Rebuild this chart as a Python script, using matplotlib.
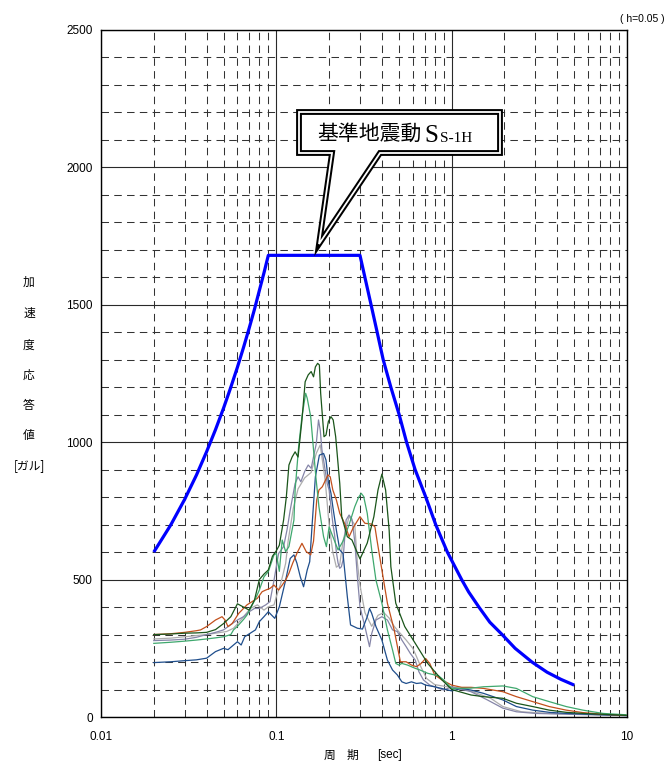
import matplotlib
matplotlib.use('Agg')
import matplotlib.pyplot as plt
from matplotlib.patches import Polygon
from matplotlib.ticker import FixedLocator, MultipleLocator, NullFormatter

plt.rcParams['font.family'] = ['Liberation Sans', 'Noto Sans CJK JP', 'DejaVu Sans']
plt.rcParams['lines.scale_dashes'] = False

# ---------------- data (period [s], acceleration [gal]) ----------------
design_T = [0.02, 0.025, 0.03, 0.035, 0.04, 0.045, 0.05, 0.055, 0.06, 0.065, 0.07,
            0.075, 0.08, 0.085, 0.09, 0.30, 0.32, 0.347, 0.37, 0.407, 0.45, 0.502,
            0.553, 0.619, 0.712, 0.811, 0.945, 1.14, 1.25, 1.43, 1.65, 1.94, 2.3,
            2.87, 3.5, 4.2, 5.0]
design_Sa = [600, 699, 792, 880, 965, 1046, 1124, 1200, 1273, 1345, 1415,
             1483, 1552, 1616, 1680, 1680, 1600, 1500, 1420, 1300, 1200, 1100,
             1000, 900, 800, 700, 600, 500, 455, 400, 345, 300, 250,
             200, 163, 137, 116]

dg_T = [0.02, 0.025, 0.03, 0.035, 0.04, 0.045, 0.05, 0.055, 0.06, 0.065, 0.07, 0.075,
        0.08, 0.085, 0.09, 0.095, 0.1, 0.104, 0.11, 0.114, 0.118, 0.123, 0.128, 0.133,
        0.14, 0.146, 0.152, 0.158, 0.163, 0.167, 0.172, 0.176, 0.179, 0.187, 0.192,
        0.198, 0.205, 0.211, 0.218, 0.23, 0.236, 0.254, 0.27, 0.285, 0.30, 0.33, 0.36,
        0.38, 0.40, 0.42, 0.44, 0.45, 0.48, 0.54, 0.62, 0.73, 0.88, 1.0, 1.29, 1.52,
        1.96, 2.34, 2.9, 3.6, 4.5, 5.6, 9.9]
dg_Sa = [300, 302, 305, 306, 308, 318, 340, 365, 412, 400, 389, 425,
         500, 520, 535, 585, 605, 625, 717, 800, 917, 946, 965, 946,
         1081, 1220, 1245, 1257, 1238, 1274, 1287, 1281, 1178, 1020, 1026,
         1075, 1093, 1081, 1020, 850, 729, 656, 644, 608, 575, 633, 729,
         826, 884, 826, 680, 547, 414, 329, 268, 195, 135, 100, 80, 74,
         68, 50, 38, 25, 17, 13, 6]

lg_T = [0.02, 0.025, 0.03, 0.035, 0.04, 0.045, 0.05, 0.055, 0.057, 0.06, 0.065, 0.068,
        0.072, 0.076, 0.08, 0.085, 0.09, 0.097, 0.1, 0.104, 0.108, 0.113, 0.118, 0.126,
        0.128, 0.134, 0.14, 0.147, 0.15, 0.157, 0.163, 0.168, 0.175, 0.186, 0.193, 0.2,
        0.205, 0.215, 0.225, 0.24, 0.26, 0.28, 0.295, 0.305, 0.315, 0.33, 0.35, 0.37,
        0.40, 0.43, 0.46, 0.48, 0.5, 0.52, 0.56, 0.62, 0.66, 0.73, 0.84, 0.9, 1.0,
        1.29, 1.52, 1.96, 2.34, 2.9, 3.6, 4.5, 5.6, 7.3, 9.9]
lg_Sa = [268, 272, 276, 280, 284, 288, 292, 300, 317, 330, 355, 371,
         401, 430, 462, 510, 529, 590, 595, 530, 644, 602, 620, 717,
         826, 983, 1093, 1178, 1160, 1093, 972, 874, 765, 656, 620, 692,
         674, 640, 608, 640, 700, 765, 800, 814, 802, 741, 608, 498,
         414, 317, 244, 195, 189, 195, 189, 177, 171, 159, 150, 135, 104,
         105, 110, 113, 104, 74, 56, 38, 25, 13, 8]

or_T = [0.02, 0.025, 0.03, 0.035, 0.037, 0.04, 0.045, 0.049, 0.051, 0.053, 0.056, 0.061,
        0.068, 0.078, 0.083, 0.087, 0.092, 0.097, 0.103, 0.108, 0.113, 0.118, 0.124,
        0.132, 0.14, 0.148, 0.157, 0.163, 0.17, 0.175, 0.183, 0.197, 0.203, 0.21, 0.22,
        0.23, 0.245, 0.26, 0.275, 0.30, 0.32, 0.35, 0.365, 0.375, 0.40, 0.43, 0.47,
        0.51, 0.55, 0.59, 0.63, 0.67, 0.71, 0.75, 0.8, 0.88, 1.0, 1.14, 1.29, 1.52,
        1.96, 2.34, 2.9, 3.6, 4.5, 5.6, 7.3, 9.9]
or_Sa = [300, 303, 308, 314, 317, 329, 353, 365, 353, 329, 340, 377,
         408, 432, 456, 462, 468, 480, 462, 480, 498, 523, 560,
         600, 632, 602, 590, 640, 790, 826, 838, 881, 874, 826, 790,
         741, 705, 656, 690, 729, 705, 702, 692, 644, 535, 414, 317,
         201, 201, 189, 183, 195, 213, 195, 153, 135, 116, 108, 108, 104,
         92, 74, 56, 38, 25, 16, 10, 6]

db_T = [0.02, 0.025, 0.03, 0.035, 0.04, 0.045, 0.05, 0.053, 0.057, 0.06, 0.063, 0.066,
        0.076, 0.08, 0.085, 0.09, 0.098, 0.104, 0.113, 0.12, 0.126, 0.131, 0.137, 0.143,
        0.15, 0.155, 0.16, 0.167, 0.176, 0.186, 0.192, 0.198, 0.205, 0.21, 0.22, 0.23,
        0.24, 0.254, 0.265, 0.29, 0.31, 0.33, 0.34, 0.35, 0.37, 0.40, 0.43, 0.46, 0.49,
        0.52, 0.55, 0.59, 0.63, 0.67, 0.71, 0.8, 1.0, 1.14, 1.29, 1.52, 1.96, 2.34,
        2.9, 3.6, 4.5, 9.9]
db_Sa = [198, 201, 205, 208, 214, 238, 250, 245, 262, 274, 262, 292,
         317, 347, 365, 383, 359, 401, 498, 577, 590, 560, 510, 474,
         535, 565, 700, 874, 953, 959, 935, 856, 814, 765, 680, 608,
         595, 438, 335, 323, 320, 365, 395, 377, 329, 280, 207, 171, 153,
         128, 122, 128, 122, 124, 116, 110, 95, 104, 98, 86, 62, 38,
         25, 17, 13, 5]

gp_T = [0.02, 0.025, 0.03, 0.035, 0.04, 0.045, 0.05, 0.056, 0.06, 0.065, 0.07, 0.075,
        0.08, 0.087, 0.092, 0.097, 0.103, 0.11, 0.115, 0.12, 0.128, 0.133, 0.138, 0.145,
        0.152, 0.158, 0.163, 0.169, 0.174, 0.178, 0.182, 0.186, 0.195, 0.2, 0.205, 0.21,
        0.215, 0.22, 0.225, 0.23, 0.235, 0.24, 0.25, 0.26, 0.27, 0.28, 0.29, 0.30, 0.32,
        0.34, 0.35, 0.37, 0.40, 0.43, 0.46, 0.49, 0.52, 0.55, 0.58, 0.62, 0.65, 0.69,
        0.75, 0.8, 0.9, 1.0, 1.29, 1.6, 1.96, 2.34, 3.0, 9.9]
gp_Sa = [278, 280, 283, 290, 300, 308, 317, 340, 353, 365, 383, 395,
         395, 408, 420, 498, 595, 620, 680, 753, 850, 874, 856, 893,
         917, 905, 947, 995, 1081, 1044, 972, 935, 850, 826, 765, 705,
         662, 600, 560, 541, 547, 571, 717, 735, 720, 640, 510, 401, 329,
         256, 304, 353, 365, 353, 317, 311, 280, 256, 232, 207, 165, 135,
         116, 110, 98, 110, 92, 62, 32, 19, 13, 5]

gy_T = [0.02, 0.025, 0.03, 0.04, 0.045, 0.052, 0.057, 0.064, 0.071, 0.078, 0.085, 0.09,
        0.097, 0.1, 0.106, 0.113, 0.117, 0.125, 0.133, 0.145, 0.158, 0.169, 0.178,
        0.19, 0.2, 0.21, 0.22, 0.23, 0.24, 0.26, 0.28, 0.29, 0.30, 0.32, 0.35, 0.38,
        0.41, 0.44, 0.47, 0.5, 0.55, 0.6, 0.63, 0.67, 0.72, 0.8, 0.94, 1.14, 1.4, 1.67,
        1.96, 2.5, 3.6, 9.9]
gy_Sa = [284, 287, 292, 300, 305, 311, 323, 359, 395, 408, 389, 401,
         408, 438, 486, 559, 644, 760, 830, 870, 890, 960, 990,
         860, 700, 600, 545, 555, 640, 730, 700, 560, 480, 380, 330, 370,
         380, 360, 330, 310, 280, 250, 220, 180, 140, 118, 110, 105, 86, 68,
         38, 19, 13, 6]

series = [
    (gy_T, gy_Sa, '#adadad'),
    (gp_T, gp_Sa, '#8585a8'),
    (db_T, db_Sa, '#1f4e8c'),
    (or_T, or_Sa, '#c2501c'),
    (lg_T, lg_Sa, '#3fa86e'),
    (dg_T, dg_Sa, '#1a551a'),
]

x_ticks = [0.01, 0.1, 1, 10]
x_ticklabels = ['0.01', '0.1', '1', '10']
y_ticks = [0, 500, 1000, 1500, 2000, 2500]

# ---------------- figure ----------------
W, H = 670, 764
fig = plt.figure(figsize=(W / 100, H / 100), dpi=100)
L, R, T, B = 101, 627, 30, 717
ax = fig.add_axes([L / W, (H - B) / H, (R - L) / W, (B - T) / H])

ax.set_xscale('log')
ax.set_xlim(0.01, 10)
ax.set_ylim(0, 2500)
ax.xaxis.set_major_locator(FixedLocator(x_ticks))
ax.set_xticklabels(x_ticklabels)
minor_x = [m * 10.0 ** e for e in (-2, -1, 0) for m in range(2, 10)]
ax.xaxis.set_minor_locator(FixedLocator(minor_x))
ax.xaxis.set_minor_formatter(NullFormatter())
ax.yaxis.set_major_locator(FixedLocator(y_ticks))
ax.yaxis.set_minor_locator(MultipleLocator(100))

ax.set_axisbelow(True)
ax.grid(which='major', color='#2a2a2a', lw=0.8, ls='-')
ax.grid(which='minor', color='#333333', lw=0.75, ls=(0, (5.4, 3.8)))
ax.tick_params(which='both', length=0)
ax.tick_params(axis='y', pad=6, labelsize=8.5)
ax.tick_params(axis='x', pad=10, labelsize=8.5)
for s in ax.spines.values():
    s.set_linewidth(1.0)
    s.set_color('black')

for tt, ss, c in series:
    ax.plot(tt, ss, color=c, lw=0.9, zorder=3)
ax.plot(design_T, design_Sa, color='#0000ff', lw=2.3, zorder=4,
        solid_capstyle='butt', solid_joinstyle='round')

# ---------------- callout ----------------
def fx(px):
    return (px - L) / (R - L)

def fy(py):
    return (B - py) / (B - T)

poly = [(fx(299), fy(112)), (fx(500), fy(112)), (fx(500), fy(153)),
        (fx(380), fy(153)), (fx(319), fy(244)), (fx(332), fy(153)),
        (fx(299), fy(153))]
ax.add_patch(Polygon(poly, closed=True, transform=ax.transAxes, facecolor='white',
                     edgecolor='black', lw=4.2, zorder=6, clip_on=False, joinstyle='miter'))
ax.add_patch(Polygon(poly, closed=True, transform=ax.transAxes, facecolor='none',
                     edgecolor='white', lw=1.3, zorder=7, clip_on=False, joinstyle='miter'))
ax.text(fx(317), fy(140), '基準地震動', transform=ax.transAxes, fontsize=15,
        family=['Noto Sans CJK JP', 'DejaVu Sans'], ha='left', va='baseline', zorder=8)
ax.text(fx(424), fy(141.5), 'S', transform=ax.transAxes, fontsize=18,
        family=['Liberation Serif', 'DejaVu Serif'], ha='left', va='baseline', zorder=8)
ax.text(fx(440), fy(141.5), 'S-1H', transform=ax.transAxes, fontsize=11,
        family=['Liberation Serif', 'DejaVu Serif'], ha='left', va='baseline', zorder=8)

# ---------------- labels ----------------
cjk = ['Noto Sans CJK JP', 'DejaVu Sans']
ylab = [('加', 282), ('速', 313), ('度', 345), ('応', 375), ('答', 405), ('値', 436), ('[ガル]', 466)]
for t, py in ylab:
    fig.text(29 / W, 1 - py / H, t, fontsize=8.5, family=cjk, ha='center', va='center')

fig.text(330 / W, 1 - 755 / H, '周', fontsize=8.5, family=cjk, ha='center', va='center')
fig.text(352 / W, 1 - 755 / H, '期', fontsize=8.5, family=cjk, ha='center', va='center')
fig.text(377 / W, 1 - 755 / H, '[sec]', fontsize=8.5, ha='left', va='center')
fig.text(665 / W, 1 - 19 / H, '( h=0.05 )', fontsize=7.5, ha='right', va='center')

fig.savefig('out.png', dpi=100)
